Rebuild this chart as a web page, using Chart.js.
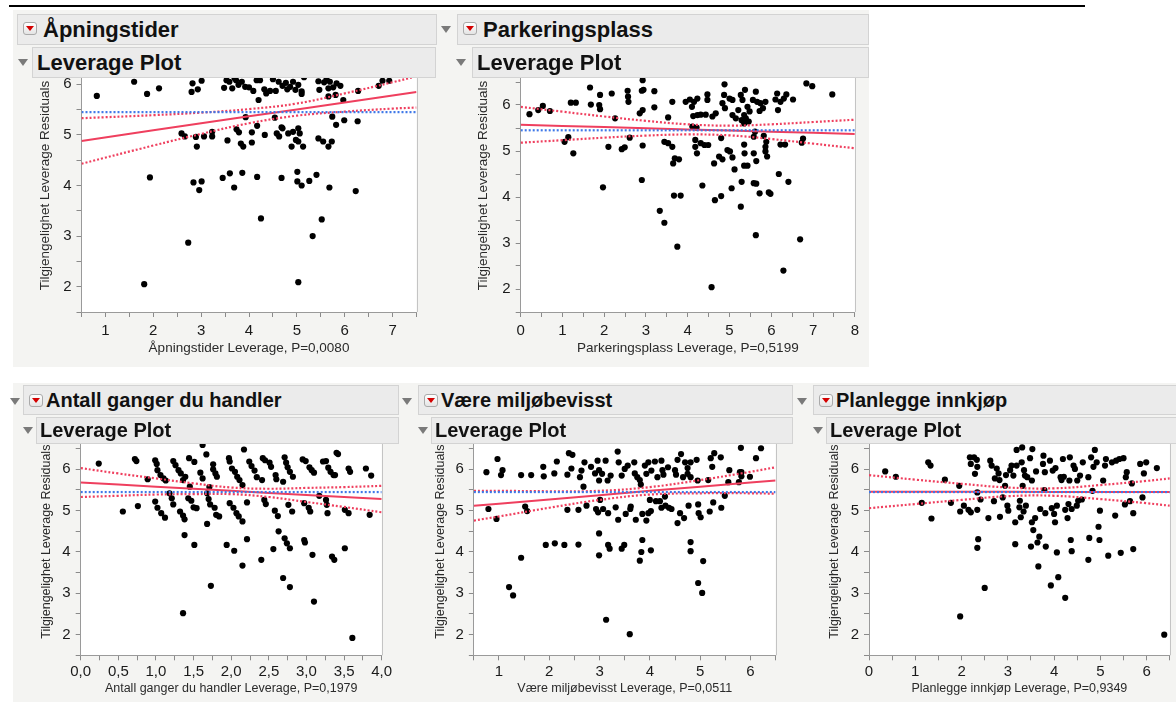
<!DOCTYPE html>
<html>
<head>
<meta charset="utf-8">
<script src="https://cdn.jsdelivr.net/npm/chart.js@4.4.1/dist/chart.umd.min.js"></script>
<style>
  body { margin: 0; width: 1176px; height: 702px; background: #fff; position: relative; overflow: hidden;
         font-family: "Liberation Sans", Arial, Helvetica, sans-serif; }
  .bg { position: absolute; background: #f4f4f2; }
  canvas { position: absolute; z-index: 1; }
  .hdr { position: absolute; z-index: 2; box-sizing: border-box; background: #ebebeb; border: 1px solid #d3d3d3;
         font-weight: bold; color: #111; white-space: nowrap; overflow: hidden; }
  .btn { position: absolute; width: 14px; height: 13px; box-sizing: border-box; border: 1px solid #aaa;
         border-radius: 3px; background: linear-gradient(#fff, #e4e4e4); }
  .btn::after { content: ""; position: absolute; left: 2px; top: 3px; border-left: 4px solid transparent;
                border-right: 4px solid transparent; border-top: 5px solid #d40000; }
  .tri { position: absolute; z-index: 2; width: 0; height: 0; border-left: 5px solid transparent;
         border-right: 5px solid transparent; border-top: 7px solid #7a7a7a; }
</style>
</head>
<body>
<div style="position:absolute;left:9px;top:5px;width:1076px;height:2px;background:#000"></div>
<div class="bg" style="left:13px;top:10px;width:856px;height:357px"></div>
<div class="bg" style="left:13px;top:383px;width:1163px;height:319px"></div>

<script>
// Tilgjengelighet mean (blue dotted line)
const yMean = 5.45;

// Åpningstider
const apningPts = [[0.82,5.77],[1.6,6.05],[1.87,5.81],[2.12,5.92],[1.93,4.16],[1.81,2.05],
  [2.82,6.02],[2.8,5.85],[2.93,5.9],[3.01,6.07],[3.48,5.93],[3.59,6.05],[3.65,5.92],[3.73,6.08],[3.78,5.99],
  [3.85,6.05],[3.92,5.95],[4.0,5.94],[4.09,5.87],[4.16,6.08],[4.23,6.08],[4.32,5.9],[4.36,5.82],[4.2,5.69],
  [4.44,5.87],[4.56,5.87],[4.62,6.05],[4.7,5.97],[4.77,6.03],[4.8,5.9],[4.86,5.95],[4.92,6.05],[4.97,5.89],
  [5.03,5.99],[5.1,5.86],[5.15,6.14],[5.1,5.81],[5.47,5.89],[5.57,6.04],[5.66,5.92],[5.69,6.05],[5.76,5.94],
  [5.83,6.02],[5.66,5.76],[5.81,5.79],[5.91,5.97],[5.97,5.69],[6.28,5.87],[6.71,5.97],[6.79,6.07],[6.93,6.07],
  [3.53,6.08],[5.45,6.06],[5.62,6.1],[4.5,6.1],[3.7,6.12],
  [3.93,5.35],[4.54,5.34],[4.17,5.18],[5.74,5.36],[5.82,5.2],[5.99,5.29],[6.27,5.27],[4.68,5.15],
  [2.59,5.03],[2.66,4.97],[2.89,4.96],[2.91,4.77],[3.06,4.97],[3.23,5.06],[3.23,4.97],[3.55,4.89],[3.74,5.11],
  [3.79,5.05],[3.83,4.83],[3.88,4.77],[4.06,5.05],[4.06,4.85],[4.33,5.0],[4.58,5.03],[4.63,4.97],[4.7,5.13],
  [4.82,5.03],[4.92,5.06],[4.98,4.9],[5.03,5.13],[5.06,5.03],[4.89,4.77],[5.03,4.87],[5.13,4.77],[5.45,4.93],
  [5.55,4.87],[5.66,4.77],[5.73,4.87],
  [2.84,4.06],[3.01,4.08],[2.96,3.91],[3.45,4.15],[3.6,4.24],[3.69,3.96],[3.86,4.25],[4.17,4.17],[4.68,4.15],
  [5.01,4.27],[5.01,4.08],[5.1,4.0],[5.26,4.09],[5.41,4.21],[5.68,3.96],[6.23,3.89],
  [4.25,3.35],[5.33,3.0],[5.52,3.33],[2.73,2.87],[5.03,2.09]];
const apningLineX = [0.5, 2, 3, 4, 5, 6, 7, 7.5];
const apningFit   = [4.88, 5.09, 5.23, 5.37, 5.50, 5.64, 5.78, 5.85];
const apningUpper = [5.33, 5.39, 5.44, 5.51, 5.62, 5.82, 6.04, 6.16];
const apningLower = [4.43, 4.79, 5.02, 5.23, 5.38, 5.46, 5.52, 5.54];

// Parkeringsplass
const parkPts = [[0.21,5.8],[0.42,5.89],[0.53,5.98],[0.7,5.87],[1.05,5.2],[1.14,5.3],[1.26,4.95],[1.2,6.05],[1.32,6.05],
  [1.66,6.38],[1.68,6.01],[1.9,6.22],[1.88,6.0],[1.9,5.91],[2.18,6.25],[2.26,5.71],[2.1,5.09],[1.97,4.21],
  [2.42,5.04],[2.49,5.08],[2.56,6.31],[2.57,6.18],[2.58,6.07],[2.61,5.29],[2.85,5.82],[2.92,5.89],[2.9,6.31],
  [2.94,6.33],[2.92,6.54],[2.92,5.12],[2.9,4.37],[3.2,6.3],[3.2,5.95],[3.33,3.7],[3.44,3.44],[3.75,2.92],
  [3.44,5.2],[3.53,5.17],[3.53,5.73],[3.63,6.07],[3.63,5.09],[3.65,4.73],[3.69,4.84],[3.79,4.82],[3.67,4.03],[3.83,4.03],
  [3.95,6.07],[4.05,6.12],[4.1,5.96],[4.15,6.07],[4.23,6.14],[4.13,5.76],[4.23,5.78],[4.31,5.79],[4.43,5.79],
  [4.11,5.53],[4.21,5.51],[4.18,5.24],[4.18,5.09],[4.22,4.95],[4.31,5.17],[4.4,5.13],[4.49,5.13],[4.35,4.25],
  [4.47,6.23],[4.47,6.11],[4.59,5.75],[4.67,5.82],[4.57,2.04],[4.65,3.93],[4.8,4.02],
  [4.8,5.28],[4.63,4.73],[4.75,4.88],[4.83,4.82],[4.87,6.22],[4.88,6.45],[4.83,6.04],[4.89,5.93],[5.0,6.14],
  [5.07,6.11],[4.95,5.02],[5.01,4.99],[5.07,4.86],[5.12,4.6],[5.05,4.19],[5.07,5.78],[5.15,5.71],[5.21,5.89],
  [5.27,6.22],[5.31,6.11],[5.37,6.33],[5.35,5.78],[5.29,5.67],[5.35,5.6],[5.43,5.96],[5.48,5.86],[5.39,5.71],
  [5.46,5.64],[5.29,4.33],[5.27,3.79],[5.36,4.95],[5.35,5.14],[5.35,4.68],[5.43,4.68],[5.56,6.11],[5.63,6.29],
  [5.61,5.42],[5.58,5.31],[5.58,4.95],[5.64,4.78],[5.58,4.3],[5.64,4.29],[5.63,3.17],[5.72,4.08],[5.66,6.07],
  [5.74,6.04],[5.72,5.87],[5.8,5.93],[5.86,6.07],[5.82,5.33],[5.88,5.2],[5.86,5.09],[5.86,4.99],[5.9,4.88],
  [5.94,4.1],[5.98,4.07],[6.1,6.12],[6.14,6.25],[6.16,5.89],[6.22,6.07],[6.3,6.14],[6.36,6.23],[6.52,6.12],
  [6.18,4.5],[6.41,4.33],[6.22,5.14],[6.33,5.14],[6.29,2.4],[6.69,3.08],[6.73,5.18],[6.76,5.27],[6.84,6.47],
  [6.98,6.41],[7.46,6.23]];
const parkLineX = [0, 1, 2, 3, 4, 5, 6, 7, 8];
const parkFit   = [5.57, 5.545, 5.52, 5.495, 5.47, 5.445, 5.42, 5.395, 5.37];
const parkUpper = [5.96, 5.855, 5.75, 5.655, 5.58, 5.55, 5.58, 5.63, 5.68];
const parkLower = [5.18, 5.235, 5.29, 5.335, 5.36, 5.34, 5.26, 5.16, 5.06];

// Antall ganger du handler
const handlerPts = [[0.24,6.14],[0.56,4.98],[0.72,6.25],[0.74,6.2],[0.76,5.11],[0.89,5.76],
  [0.99,6.22],[1.01,6.13],[1.02,5.98],[1.06,5.86],[1.1,5.78],[1.13,5.73],[0.99,5.22],[1.02,5.07],[1.07,4.94],
  [1.12,4.83],[1.18,5.42],[1.21,5.3],[1.23,5.15],
  [1.23,6.2],[1.26,6.1],[1.3,5.98],[1.33,5.9],[1.36,5.74],[1.39,5.82],[1.32,4.98],[1.36,4.88],[1.38,4.79],
  [1.38,4.41],[1.44,6.27],[1.45,5.58],[1.43,5.3],[1.47,5.24],[1.51,6.18],[1.5,5.08],[1.54,5.06],[1.51,4.17],[1.36,2.52],
  [1.62,6.59],[1.67,6.36],[1.59,5.92],[1.62,5.78],[1.68,5.42],[1.7,5.28],[1.72,5.15],[1.71,5.57],[1.68,4.68],
  [1.76,6.12],[1.76,6.0],[1.79,5.9],[1.81,5.82],[1.78,5.07],[1.8,4.9],[1.84,4.86],[1.73,3.18],
  [1.97,6.27],[1.98,6.19],[2.01,6.02],[2.05,5.94],[2.08,5.82],[2.11,5.74],[2.15,5.62],[2.17,6.48],[1.98,5.18],
  [2.03,5.07],[2.07,4.94],[2.1,4.86],[2.15,4.74],[1.94,4.17],[2.04,4.03],[2.15,3.67],[2.21,5.2],[2.21,4.31],
  [2.24,6.19],[2.27,6.08],[2.31,5.97],[2.34,5.81],[2.42,6.27],[2.45,6.22],[2.51,6.16],[2.53,6.06],[2.41,5.74],
  [2.44,5.26],[2.46,5.16],[2.4,3.81],
  [2.59,5.86],[2.6,5.76],[2.58,5.0],[2.62,4.87],[2.63,4.5],[2.56,4.07],[2.71,6.29],[2.73,6.16],[2.75,6.05],
  [2.78,5.94],[2.82,5.82],[2.69,5.7],[2.76,5.14],[2.81,4.98],[2.71,4.33],[2.74,4.21],[2.78,4.09],[2.69,3.37],[2.78,3.15],
  [2.95,6.24],[2.99,6.2],[3.04,6.05],[3.07,5.98],[3.1,5.92],[2.97,5.18],[3.03,5.07],[3.05,4.98],[2.97,4.29],
  [2.98,4.23],[3.08,3.93],[3.1,2.8],
  [3.17,5.36],[3.22,6.19],[3.26,6.2],[3.29,6.04],[3.32,5.94],[3.36,5.86],[3.26,5.26],[3.27,5.14],[3.28,4.94],
  [3.34,3.89],[3.37,3.81],[3.4,6.4],[3.42,6.37],[3.38,5.86],
  [3.51,5.02],[3.56,4.94],[3.51,4.09],[3.56,6.02],[3.58,5.94],[3.61,1.92],[3.79,6.02],[3.86,5.85],[3.84,4.9]];
const handlerLineX = [0, 0.5, 1, 1.5, 2, 2.5, 3, 3.5, 4];
const handlerFit   = [5.68, 5.63, 5.58, 5.53, 5.48, 5.43, 5.38, 5.33, 5.28];
const handlerUpper = [6.03, 5.90, 5.78, 5.66, 5.56, 5.53, 5.55, 5.57, 5.60];
const handlerLower = [5.33, 5.36, 5.39, 5.40, 5.40, 5.33, 5.21, 5.09, 4.96];

// Være miljøbevisst
const miljoPts = [[0.75,5.93],[0.79,5.04],[0.95,4.8],[0.97,6.25],[1.04,5.86],[1.07,5.98],
  [1.2,3.15],[1.28,2.95],[1.44,3.86],[1.44,5.86],[1.52,5.1],[1.56,4.99],[1.64,5.86],
  [1.88,6.06],[1.89,5.83],[1.93,4.17],[2.11,4.21],[2.15,6.19],[2.1,5.9],[2.3,4.17],[2.36,5.87],[2.36,5.02],
  [2.39,6.39],[2.46,6.35],[2.44,6.02],[2.58,5.02],[2.58,4.18],[2.61,5.81],[2.64,5.97],[2.68,5.58],[2.7,6.17],
  [2.74,5.12],[2.83,6.06],[2.91,5.9],[2.96,6.21],[2.93,5.04],[2.97,4.96],[2.99,5.98],[2.99,5.73],[3.01,5.26],
  [2.99,4.45],[2.99,3.92],[3.05,5.89],[3.07,5.04],[3.12,6.21],[3.13,2.36],[3.17,4.94],[3.17,4.17],[3.2,4.08],
  [3.22,5.85],[3.16,5.73],
  [3.32,5.08],[3.36,6.43],[3.37,4.78],[3.38,6.17],[3.44,5.85],[3.44,4.08],[3.49,4.17],[3.52,4.92],[3.5,6.01],
  [3.56,6.09],[3.6,2.01],[3.61,5.04],[3.62,5.1],[3.69,6.17],[3.7,5.9],[3.72,4.78],[3.75,5.81],[3.8,5.74],
  [3.82,5.63],[3.8,3.79],[3.83,4.0],[3.85,4.29],[3.85,4.92],[3.9,6.09],[3.93,5.89],[3.93,4.76],[3.97,4.94],
  [3.97,6.17],[4.0,5.26],[4.02,4.99],[4.02,4.04],[4.03,5.97],[4.1,6.19],[4.12,5.23],[4.15,5.81],[4.2,5.23],
  [4.23,6.21],[4.25,5.98],[4.27,5.87],[4.23,5.07],[4.3,5.34],[4.31,5.12],[4.36,6.05],[4.38,5.07],[4.43,5.04],
  [4.5,5.98],[4.52,5.87],[4.55,4.7],[4.55,6.23],[4.62,6.37],[4.6,4.94],[4.66,5.81],[4.7,6.17],[4.68,4.82],
  [4.75,6.03],[4.75,5.89],[4.81,6.17],[4.81,5.81],[4.77,5.12],[4.81,4.24],[4.81,4.02],[4.93,6.23],[4.95,5.73],
  [4.96,5.15],[4.97,4.94],[5.01,4.84],[4.96,3.25],[5.04,3.01],[5.06,3.78],[5.16,5.74],[5.19,4.98],[5.21,6.27],
  [5.24,6.06],[5.28,6.39],[5.26,5.2],[5.41,6.29],[5.42,5.07],[5.49,5.36],[5.56,5.69],[5.58,5.98],[5.77,5.69],
  [5.79,5.93],[5.81,6.52],[5.82,5.93],[5.82,5.83],[5.99,5.82],[6.11,6.27],[6.21,6.51]];
const miljoLineX = [0.5, 1, 2, 3, 4, 5, 6, 6.5];
const miljoFit   = [5.12, 5.17, 5.27, 5.37, 5.48, 5.58, 5.68, 5.73];
const miljoUpper = [5.48, 5.48, 5.47, 5.48, 5.57, 5.74, 5.94, 6.05];
const miljoLower = [4.76, 4.86, 5.07, 5.26, 5.39, 5.42, 5.42, 5.41];

// Planlegge innkjøp
const planPts = [[0.35,5.95],[0.58,5.82],[1.14,5.19],[1.28,6.17],[1.33,6.09],[1.35,4.81],[1.64,5.75],[1.77,5.19],
  [1.95,5.6],[1.97,4.98],[1.97,2.44],[2.05,5.12],[2.15,5.02],[2.2,4.96],[2.18,6.29],[2.2,6.13],[2.27,6.29],
  [2.29,5.89],[2.33,6.23],[2.34,6.06],[2.34,5.44],[2.34,5.02],[2.36,4.31],[2.34,4.1],[2.41,5.27],[2.5,3.13],[2.58,4.82],
  [2.62,6.21],[2.65,6.09],[2.7,5.23],[2.72,5.78],[2.76,6.02],[2.8,5.9],[2.82,5.74],[2.83,4.85],[2.89,5.32],
  [2.94,5.6],[2.96,5.86],[2.99,5.12],[3.01,5.0],[3.05,5.98],[3.08,6.09],[3.12,5.85],[3.16,4.72],[3.16,4.19],
  [3.19,6.47],[3.19,6.09],[3.25,5.08],[3.26,5.24],[3.28,4.84],[3.3,6.17],[3.31,6.53],[3.32,5.6],[3.34,4.98],
  [3.35,5.98],[3.37,5.85],[3.39,5.12],[3.42,5.81],[3.48,6.27],[3.52,5.73],[3.53,6.49],[3.52,4.72],[3.5,4.13],
  [3.55,4.53],[3.59,4.82],[3.61,5.95],[3.64,4.23],[3.66,3.65],[3.68,4.37],[3.7,5.04],[3.76,6.13],[3.77,6.33],
  [3.79,5.5],[3.8,5.93],[3.81,4.94],[3.82,4.13],[3.91,6.21],[3.93,3.19],[3.95,5.06],[3.97,5.97],[4.0,4.92],
  [4.02,4.72],[4.03,6.03],[4.06,5.12],[4.06,3.99],[4.09,3.39],[4.14,5.81],[4.16,5.74],[4.19,6.25],[4.21,5.82],
  [4.24,2.89],[4.24,5.02],[4.29,4.82],[4.31,5.16],[4.33,5.73],[4.34,6.29],[4.36,4.29],[4.38,4.02],[4.38,5.04],
  [4.42,6.09],[4.45,6.01],[4.49,5.12],[4.5,5.73],[4.52,5.24],[4.56,5.85],[4.6,5.27],[4.62,6.17],[4.74,5.81],
  [4.76,4.34],[4.74,3.81],[4.8,6.29],[4.83,5.48],[4.85,6.06],[4.88,6.47],[4.92,6.17],[4.96,4.61],[4.98,4.29],
  [4.99,5.0],[5.06,5.73],[5.1,6.09],[5.12,6.25],[5.17,3.91],[5.25,6.17],[5.32,4.88],[5.34,6.21],[5.41,6.25],
  [5.44,3.98],[5.5,6.27],[5.53,5.15],[5.55,5.81],[5.57,5.93],[5.64,5.23],[5.68,5.66],[5.71,4.94],[5.71,4.07],
  [5.86,6.13],[5.91,5.32],[5.94,5.9],[5.99,6.17],[6.22,6.03],[6.38,2.0]];
const planLineX = [0, 1, 2, 3, 4, 5, 6, 6.5];
const planFit   = [5.46, 5.46, 5.455, 5.455, 5.45, 5.45, 5.45, 5.45];
const planUpper = [5.86, 5.75, 5.65, 5.56, 5.54, 5.62, 5.72, 5.78];
const planLower = [5.06, 5.16, 5.26, 5.35, 5.36, 5.28, 5.18, 5.12];

const yTitle = 'Tilgjengelighet Leverage Residuals';
const FONT = '"Liberation Sans", Arial, Helvetica, sans-serif';
const RED = '#ef3f5e';
const BLUE = '#3f78e8';

// white plot area + light frame, like JMP
const framePlugin = {
  id: 'frame',
  beforeDraw(chart) {
    const { ctx, chartArea: a } = chart;
    ctx.save();
    ctx.fillStyle = '#fff';
    ctx.fillRect(a.left, a.top, a.right - a.left, a.bottom - a.top);
    ctx.restore();
  },
  afterDraw(chart) {
    const { ctx, chartArea: a } = chart;
    ctx.save();
    ctx.strokeStyle = '#c4c4c4';
    ctx.lineWidth = 1;
    ctx.beginPath();
    ctx.moveTo(Math.round(a.right) + 0.5, a.top);
    ctx.lineTo(Math.round(a.right) + 0.5, a.bottom);
    ctx.stroke();
    ctx.restore();
  }
};

function xy(xs, ys) { return xs.map((x, i) => ({ x: x, y: ys[i] })); }

function makePanel(p) {
  const cv = document.createElement('canvas');
  cv.width = p.w; cv.height = p.h;
  cv.style.left = p.left + 'px'; cv.style.top = p.top + 'px';
  document.body.appendChild(cv);

  const big = p.row === 0;
  const tickFont = { family: FONT, size: 15 };
  const titleFont = { family: FONT, size: big ? 13.5 : 12.5 };

  new Chart(cv, {
    type: 'scatter',
    data: {
      datasets: [
        { data: [{ x: p.xMin, y: yMean }, { x: p.xMax, y: yMean }], showLine: true, pointRadius: 0,
          borderColor: BLUE, borderWidth: 2.2, borderDash: [2, 2] },
        { data: xy(p.lineX, p.upper), showLine: true, pointRadius: 0, tension: 0.4,
          borderColor: RED, borderWidth: 2.2, borderDash: [2, 2] },
        { data: xy(p.lineX, p.lower), showLine: true, pointRadius: 0, tension: 0.4,
          borderColor: RED, borderWidth: 2.2, borderDash: [2, 2] },
        { data: xy(p.lineX, p.fit), showLine: true, pointRadius: 0,
          borderColor: RED, borderWidth: 2 },
        { data: p.pts.map(d => ({ x: d[0], y: d[1] })), pointRadius: 3.1, pointBorderWidth: 0,
          backgroundColor: '#000', borderColor: '#000' }
      ]
    },
    options: {
      responsive: false,
      animation: false,
      layout: { padding: { left: 0, top: p.padTop, right: p.padRight, bottom: 0 } },
      plugins: { legend: { display: false }, tooltip: { enabled: false } },
      scales: {
        x: {
          type: 'linear', min: p.xMin, max: p.xMax,
          afterFit: s => { s.height = p.xH; },
          border: { color: '#9a9a9a' },
          grid: { drawOnChartArea: false, tickLength: 5, tickColor: '#8a8a8a' },
          ticks: {
            stepSize: p.xStep, autoSkip: false, maxRotation: 0, padding: big ? 5 : 3, color: '#1a1a1a', font: tickFont,
            callback: v => {
              if (p.comma) return Math.abs(v * 2 - Math.round(v * 2)) < 1e-6 ? v.toFixed(1).replace('.', ',') : '';
              return Number.isInteger(v) ? String(v) : '';
            }
          },
          title: { display: true, text: p.xTitle, color: '#2a2a2a', font: titleFont, padding: { top: 0, bottom: 4 } }
        },
        y: {
          min: 1.5, max: p.yMax,
          afterFit: s => { s.width = p.yW; },
          border: { color: '#9a9a9a' },
          grid: { drawOnChartArea: false, tickLength: 5, tickColor: '#8a8a8a' },
          ticks: {
            stepSize: 0.5, autoSkip: false, padding: 5, color: '#1a1a1a', font: tickFont,
            callback: v => Number.isInteger(v) ? String(v) : ''
          },
          title: { display: true, text: yTitle, color: '#2a2a2a', font: titleFont, padding: { top: 4, bottom: 0 } }
        }
      }
    },
    plugins: [framePlugin]
  });
}

// panel geometry: canvas box + target plot area
const panels = [
  { row: 0, left: 33, top: 45, w: 392, h: 315, padTop: 14, padRight: 8.5, yW: 48.5, xH: 48, yMax: 6.5,
    xMin: 0.5, xMax: 7.5, xStep: 0.5, pts: apningPts, lineX: apningLineX, fit: apningFit, upper: apningUpper,
    lower: apningLower, xTitle: 'Åpningstider Leverage, P=0,0080' },
  { row: 0, left: 471, top: 45, w: 393, h: 315, padTop: 14, padRight: 8.7, yW: 49.7, xH: 48, yMax: 7,
    xMin: 0, xMax: 8, xStep: 0.5, pts: parkPts, lineX: parkLineX, fit: parkFit, upper: parkUpper,
    lower: parkLower, xTitle: 'Parkeringsplass Leverage, P=0,5199' },
  { row: 1, left: 35, top: 414, w: 363, h: 286, padTop: 14, padRight: 16.3, yW: 45.7, xH: 44.7, yMax: 7,
    xMin: 0, xMax: 4, xStep: 0.25, comma: true, pts: handlerPts, lineX: handlerLineX, fit: handlerFit,
    upper: handlerUpper, lower: handlerLower, xTitle: 'Antall ganger du handler Leverage, P=0,1979' },
  { row: 1, left: 429, top: 414, w: 355, h: 286, padTop: 14, padRight: 8.4, yW: 44.85, xH: 44.7, yMax: 7,
    xMin: 0.5, xMax: 6.5, xStep: 0.5, pts: miljoPts, lineX: miljoLineX, fit: miljoFit, upper: miljoUpper,
    lower: miljoLower, xTitle: 'Være miljøbevisst Leverage, P=0,0511' },
  { row: 1, left: 823, top: 414, w: 353, h: 286, padTop: 14, padRight: 6.2, yW: 46, xH: 44.7, yMax: 7,
    xMin: 0, xMax: 6.5, xStep: 0.5, pts: planPts, lineX: planLineX, fit: planFit, upper: planUpper,
    lower: planLower, xTitle: 'Planlegge innkjøp Leverage, P=0,9349' }
];
panels.forEach(makePanel);

// outline headers
function box(l, t, w, h, text, size, textX, btn) {
  const d = document.createElement('div');
  d.className = 'hdr';
  Object.assign(d.style, { left: l + 'px', top: t + 'px', width: w + 'px', height: h + 'px',
    fontSize: size + 'px', lineHeight: (h - 2) + 'px', paddingLeft: textX + 'px' });
  d.textContent = text;
  if (btn) {
    const b = document.createElement('div');
    b.className = 'btn';
    b.style.left = btn[0] + 'px'; b.style.top = btn[1] + 'px';
    d.appendChild(b);
  }
  document.body.appendChild(d);
}
function tri(l, t) {
  const d = document.createElement('div');
  d.className = 'tri';
  d.style.left = l + 'px'; d.style.top = t + 'px';
  document.body.appendChild(d);
}

box(17, 14, 420, 31, 'Åpningstider', 22, 25, [5, 7]);
box(32, 47, 404, 31, 'Leverage Plot', 22, 4);
tri(18, 59);
box(457, 14, 412, 31, 'Parkeringsplass', 22, 25, [5, 7]);
box(472, 47, 397, 31, 'Leverage Plot', 22, 4);
tri(441, 26); tri(456, 59);

box(23, 385, 376, 30, 'Antall ganger du handler', 20, 22, [5, 8]);
box(36, 417, 363, 27, 'Leverage Plot', 20, 3);
tri(10, 398); tri(23, 427);
box(418, 385, 375, 30, 'Være miljøbevisst', 20, 22, [5, 8]);
box(431, 417, 362, 27, 'Leverage Plot', 20, 3);
tri(402, 398); tri(418, 427);
box(813, 385, 370, 30, 'Planlegge innkjøp', 20, 22, [5, 8]);
box(826, 417, 360, 27, 'Leverage Plot', 20, 3);
tri(797, 398); tri(813, 427);
</script>
</body>
</html>
